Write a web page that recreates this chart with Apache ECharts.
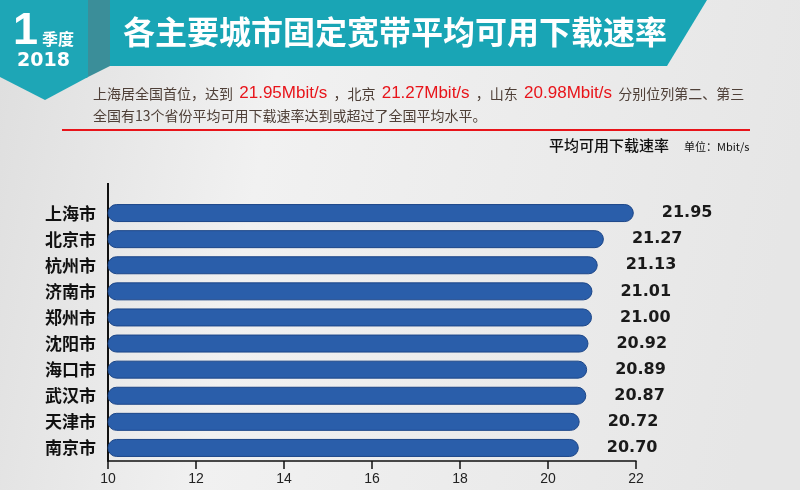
<!DOCTYPE html>
<html>
<head>
<meta charset="utf-8">
<script src="https://cdn.jsdelivr.net/npm/echarts@6/dist/echarts.min.js"></script>
<style>
  html, body { margin: 0; padding: 0; }
  #main { width: 800px; height: 490px; }
</style>
</head>
<body>
<div id="main"></div>
<script>
var cities = ['上海市', '北京市', '杭州市', '济南市', '郑州市', '沈阳市', '海口市', '武汉市', '天津市', '南京市'];
var speeds = [21.95, 21.27, 21.13, 21.01, 21.00, 20.92, 20.89, 20.87, 20.72, 20.70];
var xTicks = [10, 12, 14, 16, 18, 20, 22];

var cjk = '"Noto Sans CJK SC", "Noto Sans", sans-serif';
var textGrey = '#4f4038';
var red = '#e8141a';
var teal = '#19a5b5';

var chart = echarts.init(document.getElementById('main'));

var option = {
    backgroundColor: {
        type: 'linear', x: 0, y: 0, x2: 1, y2: 0.3,
        colorStops: [
            { offset: 0, color: '#dedede' },
            { offset: 0.35, color: '#f1f1f1' },
            { offset: 1, color: '#e6e6e6' }
        ]
    },
    graphic: [
        // title band with slanted right end
        {
            type: 'polygon', z: 1,
            shape: { points: [[90, 0], [707, 0], [667, 66], [90, 66]] },
            style: { fill: teal }
        },
        // darker side of the badge
        {
            type: 'polygon', z: 2,
            shape: { points: [[86, 0], [110, 0], [110, 66], [86, 78]] },
            style: { fill: '#3b8e99' }
        },
        // badge
        {
            type: 'polygon', z: 3,
            shape: { points: [[0, 0], [88, 0], [88, 77], [45, 100], [0, 77]] },
            style: { fill: '#1ea6b6' }
        },
        {
            type: 'text', z: 4, left: 13, top: 9,
            style: { text: '1', fill: '#fff', font: 'bold 45px "Liberation Sans", Arial, sans-serif' }
        },
        {
            type: 'text', z: 4, left: 42, top: 31,
            style: { text: '季度', fill: '#fff', font: 'bold 16px ' + cjk }
        },
        {
            type: 'text', z: 4, left: 17, top: 52,
            style: { text: '2018', fill: '#fff', font: 'bold 19px "DejaVu Sans", sans-serif' }
        },
        {
            type: 'text', z: 4, left: 123, top: 16,
            style: { text: '各主要城市固定宽带平均可用下载速率', fill: '#fff', font: 'bold 32px ' + cjk }
        },
        // summary text
        {
            type: 'text', z: 4, left: 93, top: 85,
            style: {
                text: '{g|上海居全国首位，达到  }{r|21.95Mbit/s}{g|  ，北京  }{r|21.27Mbit/s}{g|  ，山东  }{r|20.98Mbit/s}{g|  分别位列第二、第三}',
                rich: {
                    g: { fill: textGrey, font: '14px ' + cjk },
                    r: { fill: red, font: '17px "Liberation Sans", Arial, sans-serif' }
                }
            }
        },
        {
            type: 'text', z: 4, left: 93, top: 109,
            style: { text: '全国有13个省份平均可用下载速率达到或超过了全国平均水平。', fill: textGrey, font: '14px ' + cjk }
        },
        {
            type: 'line', z: 4,
            shape: { x1: 62, y1: 130, x2: 750, y2: 130 },
            style: { stroke: red, lineWidth: 2 }
        },
        {
            type: 'text', z: 4, left: 549, top: 138,
            style: { text: '平均可用下载速率', fill: '#111', font: '500 15px ' + cjk }
        },
        {
            type: 'text', z: 4, left: 684, top: 141,
            style: { text: '单位：Mbit/s', fill: '#111', font: '11px ' + cjk }
        },
        // y axis line extends above the plot
        {
            type: 'line', z: 4,
            shape: { x1: 108, y1: 183, x2: 108, y2: 200 },
            style: { stroke: '#111', lineWidth: 2 }
        }
    ],
    grid: { left: 108, right: 164, top: 200, bottom: 29 },
    xAxis: {
        type: 'value',
        min: xTicks[0],
        max: xTicks[xTicks.length - 1],
        interval: 2,
        splitLine: { show: false },
        axisLine: { show: true, lineStyle: { color: '#111', width: 1.5 } },
        axisTick: { show: true, length: 8, lineStyle: { color: '#111', width: 1.5 } },
        axisLabel: { color: '#222', fontSize: 14, margin: 11, fontFamily: '"Liberation Sans", Arial, sans-serif' }
    },
    yAxis: {
        type: 'category',
        inverse: true,
        data: cities,
        axisLine: { show: true, lineStyle: { color: '#111', width: 2 } },
        axisTick: { show: false },
        axisLabel: { color: '#111', fontSize: 17, fontWeight: 'bold', margin: 12, fontFamily: cjk }
    },
    series: [{
        type: 'bar',
        data: speeds,
        barWidth: 18,
        itemStyle: {
            color: '#2a5eaa',
            borderColor: '#1c4688',
            borderWidth: 1,
            borderRadius: 9
        },
        label: {
            show: true,
            position: 'right',
            distance: 28,
            color: '#1a1a1a',
            fontSize: 16,
            fontWeight: 'bold',
            fontFamily: '"DejaVu Sans", sans-serif',
            formatter: function (p) { return p.value.toFixed(2); }
        }
    }]
};

chart.setOption(option);
</script>
</body>
</html>
